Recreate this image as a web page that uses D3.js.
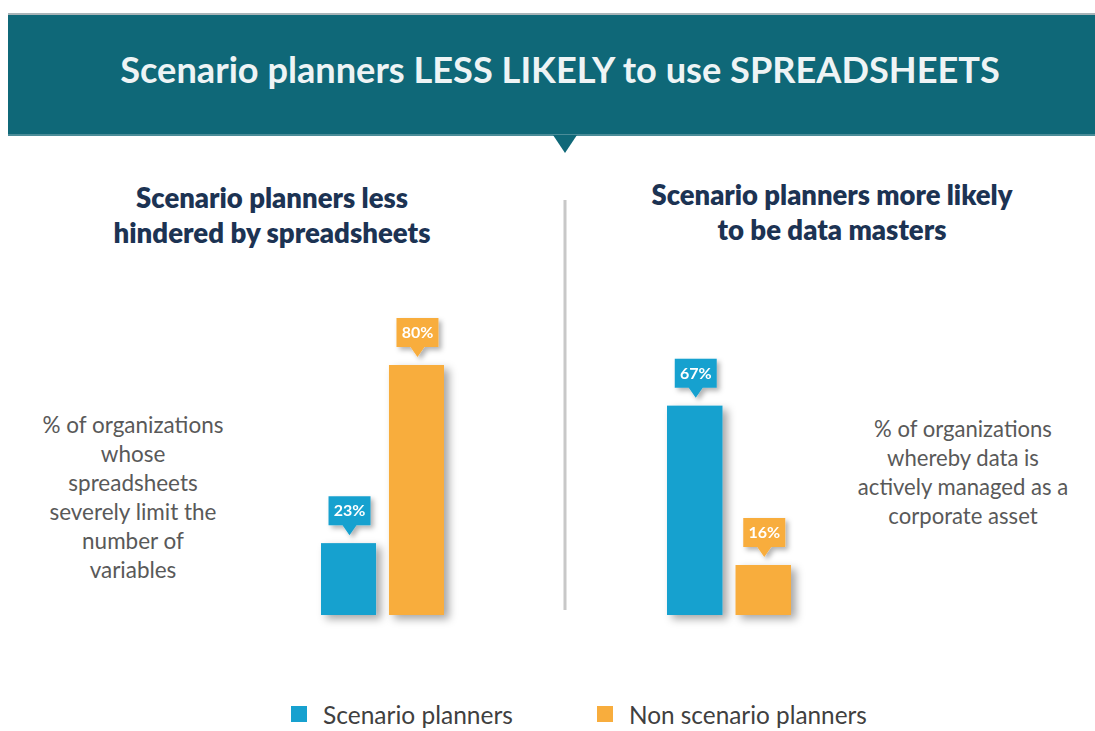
<!DOCTYPE html>
<html>
<head>
<meta charset="utf-8">
<script src="https://cdn.jsdelivr.net/npm/d3@7"></script>
<style>
  body { margin: 0; background: #fff; }
  svg { display: block; }
</style>
</head>
<body>
<svg id="chart" width="1095" height="731"></svg>
<script>
const seriesNames = ["Scenario planners", "Non scenario planners"];
const seriesColors = ["#17a1cf", "#f8ad3d"];
const hinderedValues = [23, 80];
const dataMasterValues = [67, 16];

const title = "Scenario planners LESS LIKELY to use SPREADSHEETS";
const leftHeading = ["Scenario planners less", "hindered by spreadsheets"];
const rightHeading = ["Scenario planners more likely", "to be data masters"];
const leftNote = ["% of organizations", "whose", "spreadsheets", "severely limit the", "number of", "variables"];
const rightNote = ["% of organizations", "whereby data is", "actively managed as a", "corporate asset"];

const svg = d3.select("#chart");
const font = "Lato, 'Open Sans', sans-serif";

// shrink/grow the font so a line covers the width seen in the picture
function fitText(sel, width) {
    let len = sel.node().getComputedTextLength();
    let size = parseFloat(sel.attr("font-size"));
    sel.attr("font-size", size * width / len);
}

let defs = svg.append("defs");
let shadow = defs.append("filter").attr("id", "shadow")
    .attr("x", "-30%").attr("y", "-30%").attr("width", "170%").attr("height", "160%");
shadow.append("feDropShadow")
    .attr("dx", 5).attr("dy", 4).attr("stdDeviation", 4)
    .attr("flood-color", "#000").attr("flood-opacity", 0.35);

let small = defs.append("filter").attr("id", "smallShadow")
    .attr("x", "-30%").attr("y", "-30%").attr("width", "170%").attr("height", "170%");
small.append("feDropShadow")
    .attr("dx", 3).attr("dy", 3).attr("stdDeviation", 2.5)
    .attr("flood-color", "#000").attr("flood-opacity", 0.3);

// header banner
svg.append("rect").attr("x", 8).attr("y", 13).attr("width", 1087).attr("height", 2).attr("fill", "#a9b4b8");
svg.append("rect").attr("x", 8).attr("y", 15).attr("width", 1087).attr("height", 120).attr("fill", "#0f6878");
svg.append("rect").attr("x", 8).attr("y", 134).attr("width", 1087).attr("height", 2).attr("fill", "#4b8c98");
svg.append("path").attr("d", "M553,135 L577,135 L565,153 Z").attr("fill", "#0f6878");

let titleText = svg.append("text")
    .attr("x", 560).attr("y", 83)
    .attr("text-anchor", "middle")
    .attr("font-family", font).attr("font-weight", 700).attr("font-size", 32)
    .attr("fill", "#eef4f5")
    .text(title);
fitText(titleText, 880);

// divider
svg.append("line").attr("x1", 565).attr("x2", 565).attr("y1", 200).attr("y2", 610)
    .attr("stroke", "#c8c8c8").attr("stroke-width", 3);

function heading(lines, cx, y0, widths) {
    lines.forEach((line, i) => {
        let t = svg.append("text")
            .attr("x", cx).attr("y", y0 + i * 35)
            .attr("text-anchor", "middle")
            .attr("font-family", font).attr("font-weight", 800).attr("font-size", 24)
            .attr("fill", "#1c3353")
            .text(line);
        fitText(t, widths[i]);
    });
}
heading(leftHeading, 272, 208, [272, 317]);
heading(rightHeading, 832, 205, [361, 229]);

function note(lines, cx, y0, firstWidth) {
    let g = svg.append("g");
    let texts = lines.map((line, i) => g.append("text")
        .attr("x", cx).attr("y", y0 + i * 29)
        .attr("text-anchor", "middle")
        .attr("font-family", font).attr("font-size", 19)
        .attr("fill", "#595959")
        .text(line));
    let len = texts[0].node().getComputedTextLength();
    texts.forEach(t => t.attr("font-size", 19 * firstWidth / len));
}
note(leftNote, 133, 433, 181);
note(rightNote, 963, 437, 178);

const y = d3.scaleLinear().domain([0, 100]).range([615, 302.5]);

function panel(values, x0, x1) {
    let x = d3.scaleBand().domain(seriesNames).range([x0, x1]).paddingInner(0.19);
    let data = seriesNames.map((name, i) => ({ name, value: values[i], color: seriesColors[i] }));
    let g = svg.append("g");

    g.selectAll("rect.bar").data(data).join("rect")
        .attr("class", "bar")
        .attr("x", d => x(d.name))
        .attr("y", d => y(d.value))
        .attr("width", x.bandwidth())
        .attr("height", d => y(0) - y(d.value))
        .attr("fill", d => d.color)
        .attr("filter", "url(#shadow)");

    let labels = g.selectAll("g.label").data(data).join("g")
        .attr("class", "label")
        .attr("transform", d => `translate(${x(d.name) + x.bandwidth() / 2 + 1},${y(d.value) - 8})`)
        .attr("filter", "url(#smallShadow)");
    labels.append("path")
        .attr("d", "M-21,-39 L21,-39 L21,-10 L7,-10 L0,0 L-7,-10 L-21,-10 Z")
        .attr("fill", d => d.color);
    labels.append("text")
        .attr("y", -19)
        .attr("text-anchor", "middle")
        .attr("font-family", font).attr("font-weight", 700).attr("font-size", 16)
        .attr("fill", "#fff")
        .text(d => d.value + "%");
}
panel(hinderedValues, 321, 444);
panel(dataMasterValues, 667, 791);

// legend (kept a few px higher than the source so descenders stay in frame)
let legend = svg.append("g");
let legendX = [291, 597];
let legendWidths = [190, 238];
seriesNames.forEach((name, i) => {
    legend.append("rect").attr("x", legendX[i]).attr("y", 706).attr("width", 16).attr("height", 16)
        .attr("fill", seriesColors[i]);
    let t = legend.append("text")
        .attr("x", legendX[i] + 32).attr("y", 724)
        .attr("font-family", font).attr("font-size", 23)
        .attr("fill", "#404040")
        .text(name);
    fitText(t, legendWidths[i]);
});
</script>
</body>
</html>
